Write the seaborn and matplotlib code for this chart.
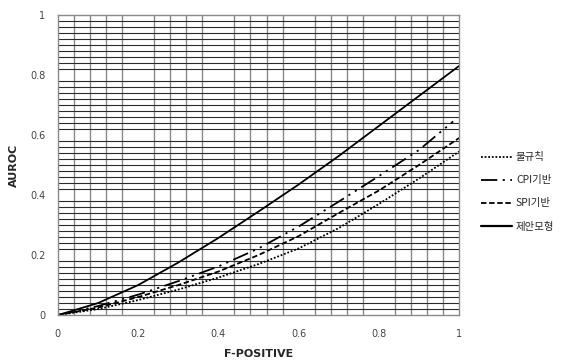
import numpy as np
import pandas as pd
import seaborn as sns
import matplotlib.pyplot as plt

# values
fpr = [0, 0.1, 0.2, 0.3, 0.4, 0.5, 0.6, 0.7, 0.8, 0.9, 1.0]
fpr_cpi = [0, 0.1, 0.2, 0.3, 0.4, 0.5, 0.6, 0.7, 0.8, 0.9, 0.985]
irregular = [0, 0.02, 0.05, 0.085, 0.125, 0.17, 0.222, 0.29, 0.37, 0.455, 0.545]
cpi_based = [0, 0.03, 0.068, 0.113, 0.162, 0.222, 0.295, 0.378, 0.463, 0.55, 0.645]
spi_based = [0, 0.025, 0.06, 0.10, 0.145, 0.20, 0.263, 0.34, 0.415, 0.50, 0.59]
proposed = [0, 0.04, 0.10, 0.175, 0.257, 0.345, 0.435, 0.53, 0.63, 0.73, 0.83]
names = ['불규칙', 'CPI기반', 'SPI기반', '제안모형']

df = pd.concat([
    pd.DataFrame({'x': fpr, 'y': irregular, 'model': names[0]}),
    pd.DataFrame({'x': fpr_cpi, 'y': cpi_based, 'model': names[1]}),
    pd.DataFrame({'x': fpr, 'y': spi_based, 'model': names[2]}),
    pd.DataFrame({'x': fpr, 'y': proposed, 'model': names[3]}),
])

sns.set_style('white')
plt.rcParams['font.family'] = ['DejaVu Sans', 'Noto Sans CJK KR']

fig = plt.figure(figsize=(5.62, 3.63), dpi=100)
ax = fig.add_axes([0.103, 0.132, 0.714, 0.827])

dashes = {names[0]: (1, 1), names[1]: (9, 3, 1.2, 3, 1.2, 3),
          names[2]: (3, 1.5), names[3]: ''}
sns.lineplot(data=df, x='x', y='y', style='model', dashes=dashes,
             color='black', linewidth=1.3, ax=ax, sort=False)
for line in ax.lines:
    if line.get_label() == names[3]:
        line.set_linewidth(1.6)

ax.set_xlim(0, 1)
ax.set_ylim(0, 1)
ax.set_xticks(np.arange(0, 1.01, 0.2))
ax.set_yticks(np.arange(0, 1.01, 0.2))
ax.set_xticklabels(['0', '0.2', '0.4', '0.6', '0.8', '1'])
ax.set_yticklabels(['0', '0.2', '0.4', '0.6', '0.8', '1'])
ax.set_xticks(np.arange(0, 1.001, 0.04), minor=True)
ax.set_yticks(np.arange(0, 1.001, 0.02), minor=True)
ax.grid(False)
ax.grid(True, which='minor', axis='x', color='#8a8a8a', linewidth=1.0)
ax.grid(True, which='minor', axis='y', color='#2a2a2a', linewidth=0.8)
ax.set_axisbelow(True)
ax.tick_params(which='both', length=0)
ax.tick_params(axis='x', pad=10, labelsize=7, labelcolor='#444444')
ax.tick_params(axis='y', pad=9, labelsize=7, labelcolor='#444444')
for s in ax.spines.values():
    s.set_color('#8a8a8a')
    s.set_linewidth(1.0)

ax.set_xlabel('F-POSITIVE', fontsize=8, fontweight='bold')
ax.set_ylabel('AUROC', fontsize=8, fontweight='bold')
ax.xaxis.set_label_coords(0.5, -0.112)
ax.yaxis.set_label_coords(-0.097, 0.5)

leg = ax.legend(loc='center left', bbox_to_anchor=(1.03, 0.41), frameon=False,
                fontsize=7.5, handlelength=3.0, handletextpad=0.4,
                labelspacing=1.25, title=None)
for t in leg.get_texts():
    t.set_family(['Noto Sans CJK KR', 'DejaVu Sans'])

fig.savefig('out.png', dpi=100)
